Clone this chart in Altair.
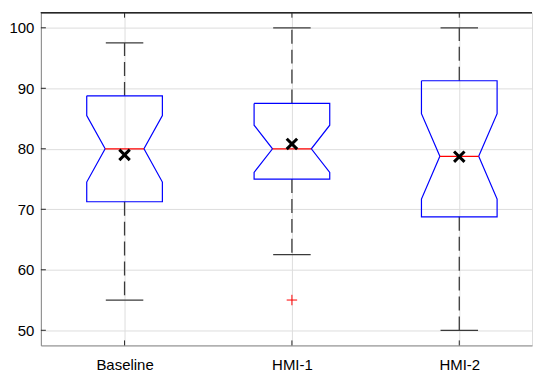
import altair as alt
import pandas as pd

# ---- data ----
groups = ["Baseline", "HMI-1", "HMI-2"]
q1 = [71.25, 75.0, 68.75]
median = [80.0, 80.0, 78.75]
q3 = [88.75, 87.5, 91.25]
notch_low = [74.5, 76.1, 71.7]
notch_high = [85.5, 83.9, 85.8]
whisker_low = [55.0, 62.5, 50.0]
whisker_high = [97.5, 100.0, 100.0]
means = [79.0, 80.8, 78.7]
outlier_group = ["HMI-1"]
outlier_value = [55.0]
y_ticks = [50, 60, 70, 80, 90, 100]

# ---- style ----
W, H = 493, 334
X_MAX = 0.5 + W / 168.0
BOX_HW, NOTCH_HW, CAP_HW = 0.226, 0.116, 0.112
FRAME = "#262626"
WHISK = "#3a3a3a"

pos = [i + 1 for i in range(len(groups))]
stats = pd.DataFrame({
    "group": groups, "pos": pos, "q1": q1, "median": median, "q3": q3,
    "wlo": whisker_low, "whi": whisker_high, "mean": means,
})
stats["cl"] = stats["pos"] - CAP_HW
stats["cr"] = stats["pos"] + CAP_HW
stats["nl"] = stats["pos"] - NOTCH_HW
stats["nr"] = stats["pos"] + NOTCH_HW

rows = []
for k, g in enumerate(groups):
    c = pos[k]
    pts = [
        (c - BOX_HW, q3[k]), (c + BOX_HW, q3[k]), (c + BOX_HW, notch_high[k]),
        (c + NOTCH_HW, median[k]), (c + BOX_HW, notch_low[k]), (c + BOX_HW, q1[k]),
        (c - BOX_HW, q1[k]), (c - BOX_HW, notch_low[k]), (c - NOTCH_HW, median[k]),
        (c - BOX_HW, notch_high[k]), (c - BOX_HW, q3[k]),
    ]
    for i, (px, py) in enumerate(pts):
        rows.append({"group": g, "i": i, "x": px, "y": py})
box_df = pd.DataFrame(rows)

out_df = pd.DataFrame({
    "group": outlier_group,
    "pos": [groups.index(g) + 1 for g in outlier_group],
    "v": outlier_value,
})
ytick_df = pd.DataFrame({"v": y_ticks})
xtick_df = pd.DataFrame({"v": pos})

label_expr = "[" + ",".join("'" + g + "'" for g in groups) + "][datum.value - 1]"
xscale = alt.Scale(domain=[0.5, X_MAX], nice=False, zero=False)
yscale = alt.Scale(domain=[47.5, 102.5], nice=False, zero=False)
xaxis = alt.Axis(values=pos, labelExpr=label_expr, title=None, grid=True,
                 ticks=False, labelPadding=12, labelFontSize=15)
yaxis = alt.Axis(values=y_ticks, title=None, grid=True, ticks=False,
                 labelPadding=7, labelFontSize=15)


def X(f):
    return alt.X(f, type="quantitative", scale=xscale, axis=xaxis)


def Y(f):
    return alt.Y(f, type="quantitative", scale=yscale, axis=yaxis)


base = alt.Chart(stats)

yt_left = alt.Chart(ytick_df).mark_rule(color=FRAME, strokeWidth=1).encode(
    y=Y("v"), x=alt.value(0), x2=alt.value(5))
xt_bottom = alt.Chart(xtick_df).mark_rule(color=FRAME, strokeWidth=1).encode(
    x=X("v"), y=alt.value(H - 5), y2=alt.value(H))
xt_top = alt.Chart(xtick_df).mark_rule(color=FRAME, strokeWidth=1).encode(
    x=X("v"), y=alt.value(0), y2=alt.value(5))
top_frame = alt.Chart(xtick_df).mark_rule(color=FRAME, strokeWidth=1.2).encode(
    x=alt.value(0), x2=alt.value(W), y=alt.value(0))

wh_up = base.mark_rule(color=WHISK, strokeWidth=1.3, strokeDash=[14, 6]).encode(
    x=X("pos"), y=Y("q3"), y2="whi")
wh_lo = base.mark_rule(color=WHISK, strokeWidth=1.3, strokeDash=[14, 6]).encode(
    x=X("pos"), y=Y("q1"), y2="wlo")
cap_up = base.mark_rule(color=WHISK, strokeWidth=1.3).encode(
    x=X("cl"), x2="cr", y=Y("whi"))
cap_lo = base.mark_rule(color=WHISK, strokeWidth=1.3).encode(
    x=X("cl"), x2="cr", y=Y("wlo"))

box = alt.Chart(box_df).mark_line(color="#0000ff", strokeWidth=1.2).encode(
    x=X("x"), y=Y("y"), detail="group:N", order="i:Q")

med = base.mark_rule(color="#ff0000", strokeWidth=1.2).encode(
    x=X("nl"), x2="nr", y=Y("median"))

outl = alt.Chart(out_df).mark_point(
    shape="M-1,0L1,0M0,-1L0,1", size=110, stroke="#ff0000", strokeWidth=1,
    filled=False, opacity=1).encode(x=X("pos"), y=Y("v"))

mean_pt = base.mark_point(
    shape="M-1,-1L1,1M-1,1L1,-1", size=110, stroke="#000000", strokeWidth=3,
    filled=False, opacity=1).encode(x=X("pos"), y=Y("mean"))

chart = alt.layer(
    wh_up, wh_lo, cap_up, cap_lo, box, med, outl, mean_pt,
    yt_left, xt_bottom, xt_top, top_frame,
).properties(
    width=W, height=H,
    padding={"left": 0, "top": 3, "right": 0, "bottom": 0},
).configure_view(
    stroke=None,
).configure_axis(
    domainColor=FRAME, domainWidth=1.2, gridColor="#dedede", gridWidth=1,
    labelFont="Liberation Sans", labelColor="#3a3a3a",
).configure(background="white")

chart.save("out.html", embed_options={"renderer": "svg", "actions": False})
